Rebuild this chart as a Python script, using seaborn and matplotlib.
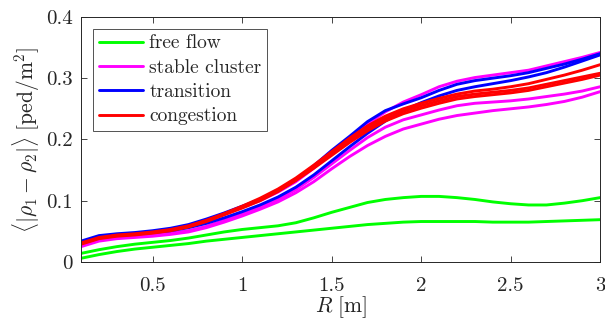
import numpy as np
import pandas as pd
import matplotlib
matplotlib.use("Agg")
import matplotlib.pyplot as plt
import seaborn as sns

# ---- data ----
R = [0.1, 0.2, 0.3, 0.4, 0.5, 0.6, 0.7, 0.8, 0.9, 1.0,
     1.1, 1.2, 1.3, 1.4, 1.5, 1.6, 1.7, 1.8, 1.9, 2.0,
     2.1, 2.2, 2.3, 2.4, 2.5, 2.6, 2.7, 2.8, 2.9, 3.0]

free_flow_1 = [0.014, 0.020, 0.025, 0.029, 0.032, 0.035, 0.039, 0.044, 0.049, 0.053,
               0.056, 0.059, 0.064, 0.072, 0.081, 0.089, 0.097, 0.102, 0.105, 0.107,
               0.107, 0.105, 0.102, 0.098, 0.095, 0.093, 0.093, 0.096, 0.100, 0.105]
free_flow_2 = [0.006, 0.012, 0.017, 0.021, 0.024, 0.027, 0.030, 0.034, 0.037, 0.040,
               0.043, 0.046, 0.049, 0.052, 0.055, 0.058, 0.061, 0.063, 0.065, 0.066,
               0.066, 0.066, 0.066, 0.065, 0.065, 0.065, 0.066, 0.067, 0.068, 0.069]

stable_1 = [0.031, 0.040, 0.044, 0.046, 0.049, 0.053, 0.059, 0.068, 0.078, 0.089,
            0.100, 0.114, 0.131, 0.153, 0.177, 0.201, 0.225, 0.245, 0.261, 0.273,
            0.286, 0.295, 0.301, 0.305, 0.309, 0.313, 0.320, 0.327, 0.334, 0.342]
stable_2 = [0.028, 0.036, 0.040, 0.042, 0.044, 0.047, 0.051, 0.058, 0.068, 0.078,
            0.089, 0.102, 0.118, 0.138, 0.160, 0.182, 0.203, 0.220, 0.232, 0.240,
            0.248, 0.255, 0.259, 0.261, 0.263, 0.266, 0.270, 0.274, 0.279, 0.286]
stable_3 = [0.025, 0.034, 0.038, 0.040, 0.042, 0.045, 0.049, 0.056, 0.065, 0.075,
            0.086, 0.098, 0.113, 0.131, 0.152, 0.172, 0.190, 0.205, 0.217, 0.225,
            0.233, 0.239, 0.243, 0.247, 0.250, 0.253, 0.257, 0.262, 0.269, 0.278]

transition_1 = [0.034, 0.043, 0.046, 0.048, 0.051, 0.055, 0.061, 0.070, 0.080, 0.091,
                0.102, 0.116, 0.134, 0.157, 0.182, 0.205, 0.229, 0.247, 0.258, 0.268,
                0.280, 0.290, 0.296, 0.300, 0.304, 0.309, 0.316, 0.323, 0.331, 0.340]
transition_2 = [0.032, 0.041, 0.044, 0.046, 0.048, 0.051, 0.056, 0.063, 0.072, 0.082,
                0.093, 0.106, 0.122, 0.142, 0.165, 0.188, 0.210, 0.230, 0.247, 0.260,
                0.271, 0.280, 0.286, 0.291, 0.296, 0.302, 0.309, 0.318, 0.328, 0.338]

congestion_1 = [0.031, 0.040, 0.044, 0.046, 0.049, 0.053, 0.059, 0.068, 0.079, 0.091,
                0.104, 0.119, 0.137, 0.158, 0.180, 0.202, 0.222, 0.238, 0.250, 0.259,
                0.267, 0.274, 0.279, 0.282, 0.286, 0.291, 0.298, 0.305, 0.313, 0.322]
congestion_2 = [0.030, 0.039, 0.043, 0.045, 0.048, 0.052, 0.058, 0.067, 0.078, 0.090,
                0.102, 0.117, 0.135, 0.155, 0.177, 0.198, 0.218, 0.234, 0.246, 0.255,
                0.263, 0.270, 0.274, 0.277, 0.280, 0.284, 0.290, 0.296, 0.302, 0.308]
congestion_3 = [0.029, 0.038, 0.042, 0.044, 0.047, 0.051, 0.057, 0.066, 0.077, 0.088,
                0.100, 0.115, 0.133, 0.153, 0.174, 0.195, 0.214, 0.230, 0.242, 0.251,
                0.259, 0.266, 0.270, 0.273, 0.276, 0.280, 0.286, 0.292, 0.298, 0.305]

categories = ["free flow", "stable cluster", "transition", "congestion"]
colors = ["#00ff00", "#ff00ff", "#0000ff", "#ff0000"]
series = {
    "free flow": [free_flow_1, free_flow_2],
    "stable cluster": [stable_1, stable_2, stable_3],
    "transition": [transition_1, transition_2],
    "congestion": [congestion_1, congestion_2, congestion_3],
}
x_ticks = [0.5, 1, 1.5, 2, 2.5, 3]
x_tick_labels = ["0.5", "1", "1.5", "2", "2.5", "3"]
y_ticks = [0, 0.1, 0.2, 0.3, 0.4]
y_tick_labels = ["0", "0.1", "0.2", "0.3", "0.4"]

rows = []
for cat in categories:
    for i, ys in enumerate(series[cat]):
        for r, v in zip(R, ys):
            rows.append({"R": r, "val": v, "cat": cat, "unit": f"{cat}_{i}"})
df = pd.DataFrame(rows)

# ---- style ----
sns.set_style("ticks")
plt.rcParams["font.family"] = ["cmr10", "DejaVu Serif"]
plt.rcParams["mathtext.fontset"] = "cm"
plt.rcParams["axes.formatter.use_mathtext"] = True
plt.rcParams["axes.unicode_minus"] = False

dark = "#262626"
fig = plt.figure(figsize=(6.05, 3.25), dpi=100)
ax = fig.add_axes([0.134, 0.194, 0.858, 0.754])

sns.lineplot(data=df, x="R", y="val", hue="cat", units="unit", estimator=None,
             hue_order=categories, palette=colors, linewidth=2.1, ax=ax,
             sort=False)

ax.set_xlim(0.1, 3.0)
ax.set_ylim(0, 0.4)
ax.set_xticks(x_ticks)
ax.set_xticklabels(x_tick_labels)
ax.set_yticks(y_ticks)
ax.set_yticklabels(y_tick_labels)
ax.tick_params(direction="in", length=4, width=0.6, colors=dark,
               labelsize=15, top=True, right=True)
ax.tick_params(axis="x", pad=11)
ax.tick_params(axis="y", pad=6)
for s in ax.spines.values():
    s.set_color(dark)
    s.set_linewidth(0.7)
    s.set_visible(True)

ax.set_xlabel(r"$R\ [\mathrm{m}]$", fontsize=15.5, color=dark, labelpad=-1)
ax.set_ylabel(r"$\langle|\rho_1-\rho_2|\rangle\ [\mathrm{ped}/\mathrm{m}^2]$",
              fontsize=15.5, color=dark, labelpad=3)

handles, labels = ax.get_legend_handles_labels()
leg = ax.legend(handles, labels, loc="upper left", fontsize=14,
                frameon=True, fancybox=False, edgecolor=dark,
                handlelength=2.3, handletextpad=0.3, borderpad=0.3,
                labelspacing=0.33, borderaxespad=0.6)
leg.get_frame().set_linewidth(0.7)
for line in leg.get_lines():
    line.set_linewidth(2.1)

fig.savefig("out.png", dpi=100)
